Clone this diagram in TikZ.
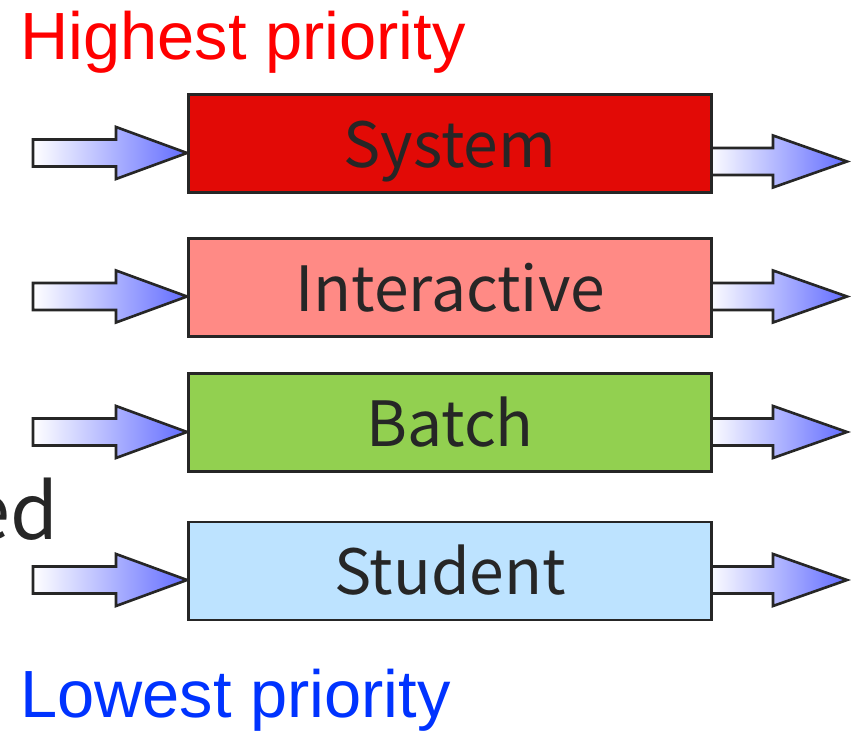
\documentclass[tikz,border=0pt]{standalone}
\usepackage{fontspec}
\setmainfont{Liberation Sans}
\newfontfamily\queuefont{Noto Sans CJK SC}
\usetikzlibrary{calc}
\pgfdeclarelayer{bg}
\pgfsetlayers{bg,main}

\definecolor{sysred}{RGB}{226,10,6}
\definecolor{intpink}{RGB}{255,138,133}
\definecolor{batgreen}{RGB}{146,208,80}
\definecolor{stublue}{RGB}{189,227,255}
\definecolor{edgegray}{RGB}{38,38,38}
\definecolor{flowblue}{RGB}{98,108,255}
\definecolor{lowblue}{RGB}{0,51,255}

\tikzset{
        queue/.style={draw=edgegray, line width=1.7pt, minimum width=10.46cm,
                minimum height=1.96cm, inner sep=0pt, text height=0.96cm,
                text depth=0cm, text=edgegray,
                font=\queuefont\fontsize{35.5}{38}\selectfont},
        flow/.style={draw=edgegray, line width=1.5pt, left color=white,
                right color=flowblue},
        prio/.style={inner sep=0pt, anchor=base west,
                font=\fontsize{38}{40}\selectfont},
}

\begin{document}
\begin{tikzpicture}
        \useasboundingbox (0cm, 0cm) rectangle (17.04cm, 14.64cm);
        \node (high) [prio, text=red] at (0.40cm, 13.44cm) {Highest priority};
        \node (low) [prio, text=lowblue] at (0.40cm, 0.30cm) {Lowest priority};
        \node (cut) [inner sep=0pt, anchor=base east, text=edgegray,
                font=\queuefont\fontsize{44}{46}\selectfont] at (1.18cm, 3.84cm) {ed};
        \node (sys) [queue, fill=sysred] at (9.00cm, 11.76cm) {System};
        \node (int) [queue, fill=intpink] at (9.00cm, 8.88cm) {Interactive};
        \node (bat) [queue, fill=batgreen] at (9.00cm, 6.19cm) {Batch};
        \node (stu) [queue, fill=stublue] at (9.00cm, 3.22cm) {Student};
        \begin{pgfonlayer}{bg}
                % in and out arrows of every queue
                \foreach \q/\din/\dout in {sys/-0.18/-0.35, int/-0.17/-0.17,
                        bat/-0.19/-0.19, stu/-0.18/-0.18} {
                        \draw[flow] ($(\q.west)+(0,\din)$) -- ++(-1.42,0.52)
                                -- ++(0,-0.25) -- ++(-1.66,0) -- ++(0,-0.54)
                                -- ++(1.66,0) -- ++(0,-0.25) -- cycle;
                        \draw[flow] ($(\q.east)+(-0.1,\dout+0.27)$) -- ++(1.30,0)
                                -- ++(0,0.25) -- ++(1.48,-0.52) -- ++(-1.48,-0.52)
                                -- ++(0,0.25) -- ++(-1.30,0);
                }
        \end{pgfonlayer}
\end{tikzpicture}
\end{document}
